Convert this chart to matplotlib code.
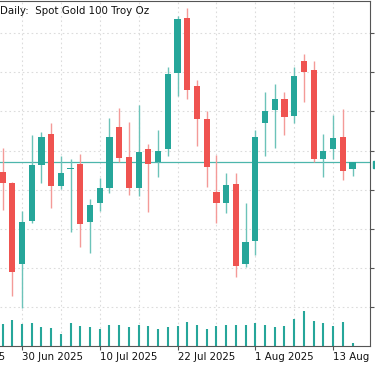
import numpy as np
import matplotlib
matplotlib.use('Agg')
from matplotlib import pyplot as plt
from matplotlib.patches import Rectangle
from matplotlib.transforms import Bbox, TransformedBbox

# Daily bars, index 0 = 30 Jun 2025
bar_idx = list(range(-2, 35))
opens = [3336.4, 3329.4, 3277.7, 3305.2, 3340.9, 3360.6, 3327.5, 3338.3, 3341.5, 3304.5,
         3316.6, 3326.2, 3365.1, 3346.0, 3326.2, 3351.1, 3342.8, 3351.1, 3399.5, 3434.6,
         3391.2, 3370.2, 3323.6, 3316.6, 3328.7, 3277.7, 3292.4, 3367.6, 3375.9, 3382.9,
         3372.1, 3407.2, 3401.4, 3344.7, 3351.1, 3358.7, 3338.3]
highs = [3351.7, 3330.0, 3311.5, 3360.0, 3361.9, 3367.6, 3346.6, 3344.7, 3347.9, 3319.2,
         3332.6, 3370.8, 3377.2, 3368.3, 3379.1, 3354.2, 3363.2, 3403.3, 3435.8, 3440.9,
         3395.0, 3375.3, 3347.2, 3335.8, 3335.8, 3316.6, 3363.2, 3387.4, 3392.5, 3387.4,
         3403.3, 3411.6, 3407.2, 3360.6, 3372.7, 3376.6, 3342.8]
lows = [3312.2, 3257.3, 3249.7, 3303.9, 3329.4, 3313.4, 3325.6, 3298.1, 3288.6, 3284.8,
        3311.5, 3323.0, 3342.8, 3321.7, 3321.1, 3310.9, 3333.2, 3346.6, 3384.8, 3382.9,
        3353.0, 3326.8, 3303.9, 3310.3, 3269.5, 3275.8, 3283.5, 3346.6, 3351.7, 3360.0,
        3367.6, 3381.0, 3342.8, 3333.2, 3344.7, 3331.3, 3333.8]
closes = [3329.4, 3272.6, 3304.5, 3340.9, 3358.7, 3327.5, 3335.8, 3338.6, 3303.2, 3315.4,
          3326.2, 3358.7, 3345.3, 3326.2, 3349.1, 3341.5, 3349.8, 3398.9, 3433.9, 3388.7,
          3370.2, 3339.6, 3316.6, 3328.1, 3276.5, 3291.8, 3358.7, 3375.3, 3382.9, 3371.5,
          3397.6, 3400.1, 3344.7, 3349.8, 3358.1, 3337.0, 3342.5]
volumes = [22000, 26000, 22000, 23000, 19000, 18000, 12000, 23000, 20000, 19000,
           17000, 21000, 21000, 19000, 21000, 20000, 17000, 19000, 20000, 24000,
           21000, 17000, 20000, 21000, 21000, 21000, 23000, 21000, 19000, 20000,
           27000, 35000, 25000, 23000, 20000, 24000, 3000]

tick_idx = [0, 8, 16, 24, 32]
tick_labels = ['30 Jun 2025', '10 Jul 2025', '22 Jul 2025', '1 Aug 2025', '13 Aug 2025']
# label of the tick just left of the visible window
prev_tick_idx = -8
prev_tick_label = '18 Jun 2025'
price_ticks = [3250, 3275, 3300, 3325, 3350, 3375, 3400, 3425]
last_price = 3342.8
title = 'Daily:  Spot Gold 100 Troy Oz'

UP = '#26a69a'
DOWN = '#ef5350'
UP_WICK = '#6cc3b9'
DOWN_WICK = '#f49a98'
FRAME = '#555555'

W, H = 375, 366
fig = plt.figure(figsize=(W / 100, H / 100), dpi=100)
ax = fig.add_axes([0, 20 / H, 370 / W, 345 / H])

x = np.array(bar_idx)
o = np.array(opens)
h = np.array(highs)
l = np.array(lows)
c = np.array(closes)
up = c >= o

# wicks
ax.vlines(x[up], l[up], h[up], color=UP_WICK, lw=1, zorder=2)
ax.vlines(x[~up], l[~up], h[~up], color=DOWN_WICK, lw=1, zorder=2)

# bodies
body = np.maximum(np.abs(c - o), 0.6)
ax.bar(x[up], body[up], bottom=np.minimum(o, c)[up], width=0.64,
       color=UP, lw=0, zorder=3)
ax.bar(x[~up], body[~up], bottom=np.minimum(o, c)[~up], width=0.64,
       color=DOWN, lw=0, zorder=3)

# tick volume at the bottom
ax.vlines(x, 0, np.array(volumes) / 345000, transform=ax.get_xaxis_transform(),
          color=UP, lw=1.5, zorder=2)

# current price line
ax.axhline(last_price, color='#4db6ac', lw=0.9, zorder=1)

ax.set_xticks(tick_idx)
ax.set_xticklabels(tick_labels, ha='left', fontsize=7.4, color='#111111')
ax.set_xticks(np.arange(-8, 36, 4), minor=True)
ax.tick_params(axis='x', which='major', length=3, pad=1.5, color=FRAME, width=0.8)
ax.tick_params(axis='x', which='minor', length=0)

ax.yaxis.tick_right()
ax.set_yticks(price_ticks)
ax.tick_params(axis='y', length=3, color=FRAME, width=0.8, labelright=False)

# limits after the ticks, so the off-screen ticks don't widen the view
ax.set_xlim(-2.263, 35.80)
ax.set_ylim(3225.45, 3445.4)

ax.grid(True, which='both', axis='x', color='#dcdcdc', lw=0.8, ls=(0, (1.5, 2.5)))
ax.grid(True, which='major', axis='y', color='#dcdcdc', lw=0.8, ls=(0, (1.5, 2.5)))
ax.set_axisbelow(True)

ax.spines['left'].set_visible(False)
for side in ['top', 'right', 'bottom']:
    ax.spines[side].set_color(FRAME)
    ax.spines[side].set_linewidth(0.8)

# labels are hidden behind the price scale on the right
clip = TransformedBbox(Bbox([[0, 0], [370 / W, 1]]), fig.transFigure)
for lbl in ax.get_xticklabels():
    lbl.set_clip_box(clip)
    lbl.set_clip_on(True)

# only the tail of this label shows at the left edge
ax.annotate(prev_tick_label, xy=(prev_tick_idx, 0), xycoords=ax.get_xaxis_transform(),
            xytext=(0, -4.5), textcoords='offset points', ha='left', va='top',
            fontsize=7.4, color='#111111', annotation_clip=False)

fig.text(0.5 / W, 1 - 10.5 / H, title, fontsize=7.4, va='center', ha='left', color='#111111')

# edge of the price label on the right scale
fig.patches.append(Rectangle((372.5 / W, 1 - 168 / H), 2.5 / W, 7 / H,
                             transform=fig.transFigure, color=UP))

fig.savefig('out.png', dpi=100)
